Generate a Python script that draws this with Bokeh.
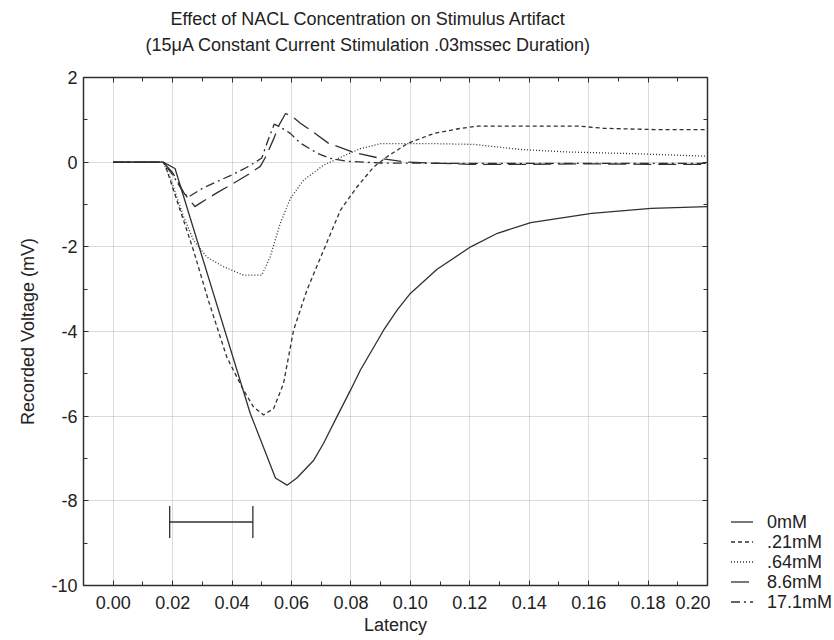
from bokeh.plotting import figure
from bokeh.layouts import row
from bokeh.models import (Range1d, FixedTicker, NumeralTickFormatter, LinearAxis, Title, Div)
from bokeh.embed import file_html
from bokeh.resources import INLINE

FONT = "Liberation Sans"
FS = "18px"

title_line1 = "Effect of NACL Concentration on Stimulus Artifact"
title_line2 = "(15\u03bcA Constant Current Stimulation .03mssec Duration)"
x_label = "Latency"
y_label = "Recorded Voltage (mV)"

x_ticks = [0.00, 0.02, 0.04, 0.06, 0.08, 0.10, 0.12, 0.14, 0.16, 0.18, 0.20]
x_minor = [-0.01, 0.01, 0.03, 0.05, 0.07, 0.09, 0.11, 0.13, 0.15, 0.17, 0.19]
y_ticks = [-10, -8, -6, -4, -2, 0, 2]
y_minor = [-9, -7, -5, -3, -1, 1]

labels = ["0mM", ".21mM", ".64mM", "8.6mM", "17.1mM"]

# 0mM (solid)
x_0 = [0.0, 0.0168, 0.0208, 0.0461, 0.0546, 0.0585, 0.0618, 0.0675, 0.0708, 0.0753,
       0.0799, 0.0832, 0.091, 0.0956, 0.1, 0.109, 0.1203, 0.1293, 0.1405, 0.161, 0.181, 0.2]
y_0 = [0.0, 0.0, -0.15, -5.93, -7.46, -7.63, -7.46, -7.04, -6.64, -6.01,
       -5.38, -4.91, -3.97, -3.49, -3.1, -2.53, -2.0, -1.68, -1.43, -1.21, -1.09, -1.05]

# .21mM (short dash)
x_21 = [0.0, 0.0168, 0.0175, 0.0225, 0.027, 0.032, 0.0382, 0.0438, 0.0472, 0.0506, 0.054,
        0.0573, 0.0607, 0.0652, 0.0708, 0.0765, 0.0821, 0.0877, 0.0922, 0.099, 0.108, 0.117,
        0.1226, 0.157, 0.165, 0.182, 0.2]
y_21 = [0.0, 0.0, -0.07, -1.13, -2.08, -3.26, -4.6, -5.38, -5.78, -5.97, -5.82,
        -5.23, -3.97, -3.02, -2.08, -1.13, -0.58, -0.11, 0.13, 0.44, 0.68, 0.8,
        0.85, 0.85, 0.8, 0.77, 0.77]

# .64mM (dotted)
x_64 = [0.0, 0.0168, 0.0191, 0.0237, 0.027, 0.0315, 0.0371, 0.0439, 0.05, 0.0528, 0.0562,
        0.0596, 0.064, 0.0708, 0.0776, 0.0832, 0.09, 0.1057, 0.1214, 0.137, 0.153, 0.1754, 0.2]
y_64 = [0.0, 0.0, -0.35, -1.29, -1.84, -2.24, -2.47, -2.67, -2.67, -2.24, -1.45,
        -0.86, -0.43, -0.07, 0.15, 0.32, 0.44, 0.44, 0.42, 0.3, 0.24, 0.2, 0.14]

# 8.6mM (long dash)
x_86 = [0.0, 0.0168, 0.02, 0.024, 0.0275, 0.029, 0.035, 0.04, 0.045, 0.0495, 0.0515, 0.054,
        0.056, 0.058, 0.0606, 0.063, 0.0663, 0.0724, 0.0805, 0.0899, 0.099, 0.107, 0.12,
        0.14, 0.16, 0.18, 0.2]
y_86 = [0.0, 0.0, -0.25, -0.75, -1.05, -0.98, -0.72, -0.52, -0.31, -0.1, 0.15, 0.55,
        0.9, 1.15, 1.06, 0.92, 0.76, 0.45, 0.24, 0.09, 0.0, -0.02, -0.05,
        -0.05, -0.04, -0.05, -0.05]

# 17.1mM (dash-dot)
x_171 = [0.0, 0.0168, 0.02, 0.0235, 0.0252, 0.03, 0.0349, 0.04, 0.045, 0.0478, 0.05, 0.052,
         0.0542, 0.0562, 0.0596, 0.063, 0.0687, 0.073, 0.0788, 0.0842, 0.09, 0.12, 0.2]
y_171 = [0.0, 0.0, -0.3, -0.7, -0.83, -0.62, -0.46, -0.3, -0.12, 0.0, 0.1, 0.5,
         0.9, 0.83, 0.68, 0.45, 0.21, 0.09, 0.02, 0.0, -0.02, -0.03, -0.03]

# stimulus duration bar
bar_x0 = 0.019
bar_x1 = 0.047
bar_y = -8.5
bar_cap = 0.38

series = [(x_0, y_0, "solid"), (x_21, y_21, "4 3"), (x_64, y_64, "1 2"),
          (x_86, y_86, "18 7"), (x_171, y_171, "9 4 2 4")]

INK = "#303030"
TXT = "#222222"

p = figure(width=710, height=640, x_range=Range1d(-0.01, 0.2), y_range=Range1d(-10, 2),
           output_backend="svg", toolbar_location=None, title=None,
           min_border_left=83, min_border_right=3, min_border_top=77, min_border_bottom=55)
p.background_fill_color = "white"
p.border_fill_color = "white"
p.outline_line_color = INK
p.outline_line_width = 1.5

for (xs, ys, dash) in series:
    p.line(xs, ys, line_color=INK, line_width=1.3, line_dash=dash)

p.segment(x0=[bar_x0], y0=[bar_y], x1=[bar_x1], y1=[bar_y], line_color=INK, line_width=1.3)
p.segment(x0=[bar_x0, bar_x1], y0=[bar_y - bar_cap, bar_y - bar_cap],
          x1=[bar_x0, bar_x1], y1=[bar_y + bar_cap, bar_y + bar_cap],
          line_color=INK, line_width=1.3)

# main axes
p.xaxis.ticker = FixedTicker(ticks=x_ticks, minor_ticks=x_minor)
p.yaxis.ticker = FixedTicker(ticks=y_ticks, minor_ticks=y_minor)
p.xaxis.formatter = NumeralTickFormatter(format="0.00")
p.yaxis.formatter = NumeralTickFormatter(format="0")
for ax in p.axis:
    ax.major_tick_in = 5
    ax.major_tick_out = 0
    ax.minor_tick_in = 4
    ax.minor_tick_out = 0
    ax.axis_line_color = INK
    ax.major_tick_line_color = INK
    ax.minor_tick_line_color = INK
    ax.major_label_text_font = FONT
    ax.major_label_text_font_size = FS
    ax.major_label_text_color = TXT
    ax.axis_label_text_font = FONT
    ax.axis_label_text_font_size = FS
    ax.axis_label_text_font_style = "normal"
    ax.axis_label_text_color = TXT
p.xaxis.major_label_standoff = 10
p.xaxis.axis_label = x_label
p.xaxis.axis_label_standoff = 3
p.yaxis.major_label_standoff = 6
p.yaxis.axis_label = y_label
p.yaxis.axis_label_standoff = 10

# tick-only axes on the top and right edges
for side, ticks, minor in (("above", x_ticks, x_minor), ("right", y_ticks, y_minor)):
    ax = LinearAxis(ticker=FixedTicker(ticks=ticks, minor_ticks=minor))
    ax.major_tick_in = 5
    ax.major_tick_out = 0
    ax.minor_tick_in = 4
    ax.minor_tick_out = 0
    ax.axis_line_color = INK
    ax.major_tick_line_color = INK
    ax.minor_tick_line_color = INK
    ax.major_label_text_font_size = "1px"
    ax.major_label_text_color = None
    ax.major_label_standoff = 0
    ax.axis_label_standoff = 0
    p.add_layout(ax, side)

# invisible spacer between the plot's top edge and the two title lines
spacer = LinearAxis(ticker=FixedTicker(ticks=x_ticks, minor_ticks=[]))
spacer.major_tick_in = 0
spacer.major_tick_out = 20
spacer.minor_tick_in = 0
spacer.minor_tick_out = 0
spacer.axis_line_color = None
spacer.major_tick_line_color = None
spacer.minor_tick_line_color = None
spacer.major_label_text_font_size = "1px"
spacer.major_label_text_color = None
spacer.major_label_standoff = 0
spacer.axis_label_standoff = 0
p.add_layout(spacer, "above")

p.grid.grid_line_color = "#b8b8b8"
p.grid.grid_line_dash = "1 1"
p.xgrid.ticker = FixedTicker(ticks=x_ticks)
p.ygrid.ticker = FixedTicker(ticks=y_ticks)

# titles (line 2 is nearest the plot)
t2 = Title(text=title_line2, align="left", offset=62, text_font=FONT,
           text_font_size=FS, text_font_style="normal", text_color=TXT, standoff=6)
t1 = Title(text=title_line1, align="left", offset=87, text_font=FONT,
           text_font_size=FS, text_font_style="normal", text_color=TXT, standoff=2)
p.add_layout(t2, "above")
p.add_layout(t1, "above")

# legend, to the right of the plot
legend_rows = []
for i, (lab, (_, _, dash)) in enumerate(zip(labels, series)):
    dash_attr = "" if dash == "solid" else f' stroke-dasharray="{dash}"'
    legend_rows.append(
        f'<div style="position:absolute;left:21px;top:{512 + 20 * i}px;height:20px;'
        f'display:flex;align-items:center;white-space:nowrap;">'
        f'<svg width="22" height="20" style="display:block;flex:none">'
        f'<line x1="0" y1="10" x2="22" y2="10" stroke="{INK}" stroke-width="1.3"{dash_attr}/></svg>'
        f'<span style="margin-left:14px;line-height:20px;">{lab}</span></div>')
legend_div = Div(
    text=(f'<div style="position:relative;width:124px;height:640px;background:white;'
          f'font-family:\'{FONT}\';font-size:{FS};color:{TXT};">' + "".join(legend_rows) + '</div>'),
    width=124, height=640, margin=0)

layout = row(p, legend_div)

open("out.html", "w").write(file_html(layout, INLINE))
